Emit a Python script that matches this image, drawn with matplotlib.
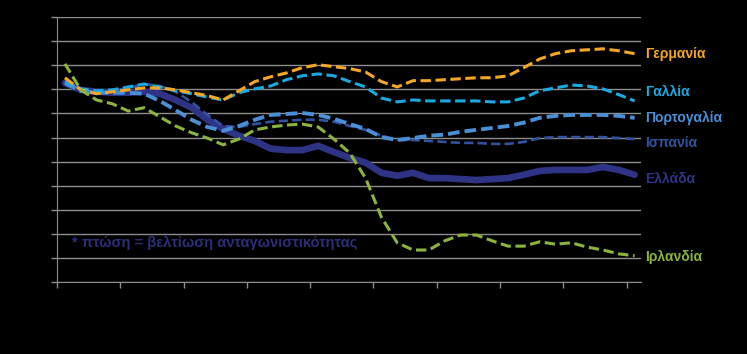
import matplotlib
matplotlib.use('Agg')
import matplotlib.pyplot as plt

# quarterly positions (year units), tick years for the hidden x labels
quarters = [2000.125 + 0.25 * i for i in range(37)]
tick_years = list(range(2000, 2010))

# index values (lower = better competitiveness)
germany = [112.4, 109.9, 109.1, 109.5, 109.9, 110.3, 110.3, 109.9, 109.3, 108.7,
           107.8, 109.7, 111.6, 112.6, 113.4, 114.5, 115.1, 114.7, 114.3, 113.6,
           111.6, 110.5, 111.8, 111.8, 112.0, 112.2, 112.4, 112.4, 112.8, 114.5,
           116.3, 117.4, 118.0, 118.2, 118.4, 118.0, 117.4]
france = [111.6, 110.1, 109.7, 109.9, 110.5, 111.1, 110.5, 109.7, 109.1, 108.4,
          107.8, 109.3, 110.1, 110.7, 112.0, 112.8, 113.2, 112.8, 111.6, 110.5,
          108.2, 107.4, 107.8, 107.6, 107.6, 107.6, 107.6, 107.4, 107.4, 108.2,
          109.7, 110.3, 110.9, 110.7, 110.1, 108.9, 107.6]
portugal = [111.3, 109.7, 109.3, 109.3, 109.3, 109.1, 107.6, 105.7, 103.7, 102.2,
            101.4, 102.4, 103.7, 104.7, 104.9, 105.1, 104.7, 103.9, 102.8, 101.8,
            100.1, 99.5, 99.9, 100.4, 100.6, 101.2, 101.6, 102.0, 102.4, 103.1,
            104.1, 104.5, 104.7, 104.7, 104.7, 104.5, 104.1]
spain = [111.3, 109.9, 109.5, 109.7, 110.3, 111.1, 110.7, 109.5, 107.4, 104.7,
         102.4, 102.2, 102.8, 103.3, 103.5, 103.7, 103.7, 103.3, 102.4, 101.6,
         100.4, 99.5, 99.5, 99.3, 99.1, 98.9, 98.9, 98.7, 98.7, 99.1,
         99.9, 100.1, 100.1, 100.1, 100.1, 99.9, 99.7]
greece = [111.3, 109.9, 109.5, 109.3, 109.3, 109.5, 109.1, 107.8, 106.2, 103.7,
          101.8, 100.4, 99.3, 97.7, 97.4, 97.4, 98.3, 97.0, 95.8, 94.8,
          92.7, 92.1, 92.7, 91.6, 91.6, 91.4, 91.2, 91.4, 91.6, 92.3,
          93.1, 93.3, 93.3, 93.3, 93.9, 93.3, 92.3]
ireland = [115.3, 109.9, 107.8, 107.0, 105.5, 106.2, 104.3, 102.4, 101.0, 99.9,
           98.5, 99.7, 101.6, 102.2, 102.6, 102.8, 102.2, 99.7, 96.8, 91.6,
           83.5, 78.2, 76.7, 76.7, 78.6, 79.8, 79.8, 78.6, 77.5, 77.5,
           78.4, 77.9, 78.2, 77.3, 76.7, 75.9, 75.5]

labels = ['Γερμανία', 'Γαλλία', 'Πορτογαλία', 'Ισπανία', 'Ελλάδα', 'Ιρλανδία']
label_y = [117.4, 109.5, 104.1, 98.9, 91.4, 75.2]
colors = ['#F5A623', '#1BA9E1', '#4A8FD6', '#31539F', '#2F3385', '#8CB43C']
note = '* πτώση = βελτίωση ανταγωνιστικότητας'

fig = plt.figure(figsize=(7.47, 3.54), dpi=100, facecolor='black')
ax = fig.add_axes([0.0763, 0.2025, 0.7818, 0.7495], facecolor='black')

# Greece first so the dashed lines sit on top of it
ax.plot(quarters, greece, color=colors[4], lw=4.8, solid_capstyle='round', zorder=3)
ax.plot(quarters, spain, color=colors[3], lw=1.9, dashes=(3.5, 1.6), zorder=4)
ax.plot(quarters, portugal, color=colors[2], lw=2.8, dashes=(3.0, 1.3), zorder=4)
ax.plot(quarters, france, color=colors[1], lw=2.2, dashes=(3.4, 1.5), zorder=5)
ax.plot(quarters, germany, color=colors[0], lw=2.2, dashes=(3.4, 1.5), zorder=5)
ax.plot(quarters, ireland, color=colors[5], lw=2.2, dashes=(3.4, 1.5), zorder=6)

for name, yv, c in zip(labels, label_y, colors):
    ax.annotate(name, xy=(1.007, yv), xycoords=('axes fraction', 'data'),
                color=c, fontsize=10, fontweight='bold', family='Liberation Sans',
                va='center', ha='left', annotation_clip=False)

ax.text(0.025, 0.147, note, transform=ax.transAxes, color='#2B2F78',
        fontsize=10.5, fontweight='bold', family='Liberation Sans', va='center')

ax.set_xlim(2000, 2009.226)
ax.set_ylim(70, 125)
ax.set_xticks(tick_years)
ax.set_yticks(range(70, 126, 5))
ax.tick_params(colors='#8C8C8C', labelcolor='black', length=4, width=1)
ax.grid(axis='y', color='#8C8C8C', lw=1)
ax.set_axisbelow(True)
for side in ['top', 'right']:
    ax.spines[side].set_visible(False)
for side in ['left', 'bottom']:
    ax.spines[side].set_color('#8C8C8C')

fig.savefig('out.png', dpi=100, facecolor='black')
